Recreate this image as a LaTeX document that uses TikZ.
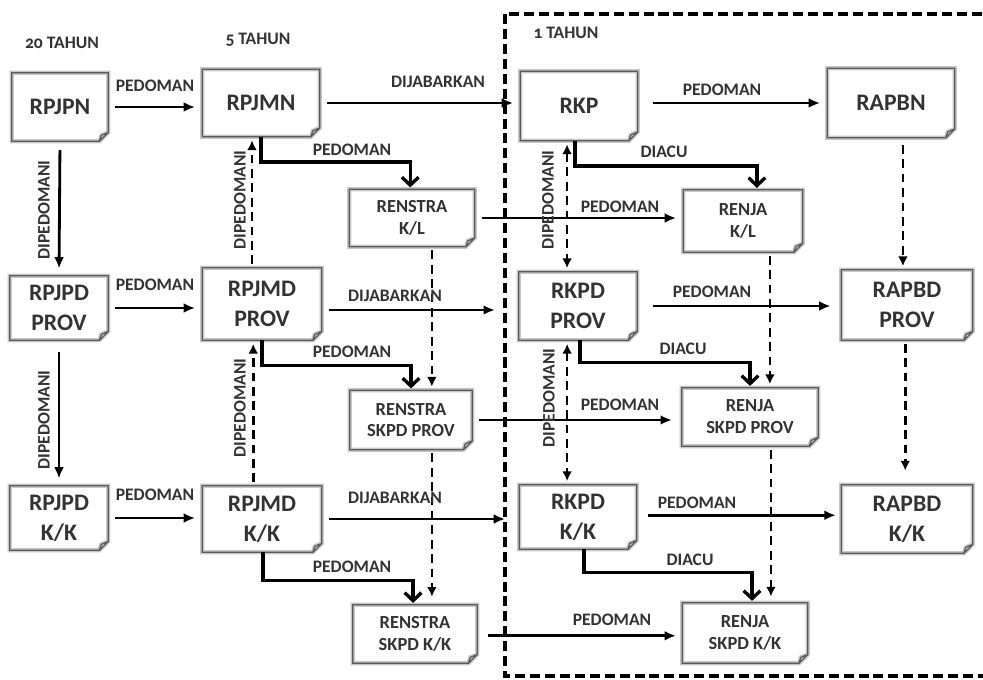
\documentclass[tikz,border=0pt]{standalone}
\usepackage{fontspec}
\setmainfont{Carlito}
\usepackage{tikz}
\usetikzlibrary{arrows.meta, calc}

\begin{document}
\begin{tikzpicture}[
    x=0.02cm, y=-0.02cm,
    doc/.style={rectangle, inner sep=0pt, align=center, text=black!80, font=\fontsize{13.5}{17}\selectfont\bfseries},
    subdoc/.style={doc, font=\fontsize{10.5}{12.5}\selectfont\bfseries},
    outline/.style={draw=black!65, line width=0.7pt, line join=round, preaction={draw=black!22, line width=2.4pt}},
    hdr/.style={font=\fontsize{10}{11}\selectfont\bfseries\addfontfeatures{Numbers=OldStyle}, text=black!80, inner sep=0pt},
    lbl/.style={font=\fontsize{10}{11}\selectfont\bfseries, text=black!80, inner sep=0pt},
    rlbl/.style={lbl, rotate=90},
    link/.style={line width=1.6pt, shorten <=4pt, shorten >=4pt, -{Latex[length=6.5pt, width=5.5pt]}},
    turn/.style={line width=1.9pt, shorten >=1pt, -{Straight Barb[length=4.5pt, width=9.5pt]}},
    ref/.style={line width=1.5pt, dash pattern=on 5pt off 3.2pt, shorten <=2pt, shorten >=2pt, -{Latex[length=5.5pt, width=5.5pt]}},
    frame/.style={line width=1.8pt, dash pattern=on 5.7pt off 2.8pt},
]
\useasboundingbox (0,0) rectangle (983,679);

% 1 tahun frame
\draw[frame] (505,14) rectangle (1000,676);

% Headers
\node[hdr] (h20) at (62,43) {20 TAHUN};
\node[hdr] (h5) at (258,40) {5 TAHUN};
\node[hdr] (h1) at (566,33) {1 TAHUN};

% National
\node[doc, minimum width=1.92cm, minimum height=1.36cm] (rpjpn) at (60,107) {RPJPN};
\node[doc, minimum width=2.34cm, minimum height=1.34cm] (rpjmn) at (261,103) {RPJMN};
\node[doc, minimum width=2.34cm, minimum height=1.38cm] (rkp) at (579,106) {RKP};
\node[doc, minimum width=2.54cm, minimum height=1.38cm] (rapbn) at (891,103) {RAPBN};
\node[subdoc, minimum width=2.50cm, minimum height=1.14cm] (renstrakl) at (412,218) {RENSTRA\\K/L};
\node[subdoc, minimum width=2.38cm, minimum height=1.24cm] (renjakl) at (743,221) {RENJA\\K/L};

% Province
\node[doc, minimum width=1.96cm, minimum height=1.28cm] (rpjpdprov) at (59,308) {RPJPD\\PROV};
\node[doc, minimum width=2.38cm, minimum height=1.44cm] (rpjmdprov) at (262,304) {RPJMD\\PROV};
\node[doc, minimum width=2.36cm, minimum height=1.36cm] (rkpdprov) at (578,306) {RKPD\\PROV};
\node[doc, minimum width=2.62cm, minimum height=1.40cm] (rapbdprov) at (907,305) {RAPBD\\PROV};
\node[subdoc, minimum width=2.44cm, minimum height=1.18cm] (renstraprov) at (411,420) {RENSTRA\\SKPD PROV};
\node[subdoc, minimum width=2.72cm, minimum height=1.16cm] (renjaprov) at (750,417) {RENJA\\SKPD PROV};

% Kabupaten / Kota
\node[doc, minimum width=1.96cm, minimum height=1.28cm] (rpjpdkk) at (59,518) {RPJPD\\K/K};
\node[doc, minimum width=2.38cm, minimum height=1.32cm] (rpjmdkk) at (262,519) {RPJMD\\K/K};
\node[doc, minimum width=2.34cm, minimum height=1.28cm] (rkpdkk) at (578,517) {RKPD\\K/K};
\node[doc, minimum width=2.62cm, minimum height=1.36cm] (rapbdkk) at (907,519) {RAPBD\\K/K};
\node[subdoc, minimum width=2.48cm, minimum height=1.16cm] (renstrakk) at (415,634) {RENSTRA\\SKPD K/K};
\node[subdoc, minimum width=2.50cm, minimum height=1.20cm] (renjakk) at (745,633) {RENJA\\SKPD K/K};

% Document outlines with folded corner
\foreach \n in {rpjpn, rpjmn, rkp, rapbn, renstrakl, renjakl, rpjpdprov, rpjmdprov, rkpdprov, rapbdprov, renstraprov, renjaprov, rpjpdkk, rpjmdkk, rkpdkk, rapbdkk, renstrakk, renjakk}
  \draw[outline] (\n.north west) -- (\n.north east) -- ($(\n.south east)+(0,-9)$) -- ($(\n.south east)+(-9,0)$) -- (\n.south west) -- cycle
    ($(\n.south east)+(0,-9)$) -- ($(\n.south east)+(-7,-6)$) -- ($(\n.south east)+(-9,0)$);

% Horizontal links
\draw[link] (rpjpn.east) -- (rpjpn.east -| rpjmn.west);
\draw[link] (rpjmn.east) -- (rpjmn.east -| rkp.west);
\draw[link, shorten <=8.5pt] (rapbn.west -| rkp.east) -- (rapbn.west);
\draw[link] (renstrakl.east) -- (renstrakl.east -| renjakl.west);
\draw[link] (rpjpdprov.east) -- (rpjpdprov.east -| rpjmdprov.west);
\draw[link, shorten >=13.5pt] ([yshift=-3.4pt]rpjmdprov.east) -- ([yshift=-3.4pt]rpjmdprov.east -| rkpdprov.west);
\draw[link, shorten <=9pt, shorten >=6pt] (rkpdprov.east) -- (rkpdprov.east -| rapbdprov.west);
\draw[link, shorten >=5.5pt] (renstraprov.east) -- (renstraprov.east -| renjaprov.west);
\draw[link] (rpjpdkk.east) -- (rpjpdkk.east -| rpjmdkk.west);
\draw[link, shorten >=8pt] (rpjmdkk.east) -- (rpjmdkk.east -| rkpdkk.west);
\draw[link, shorten <=6.5pt, shorten >=3pt] ([yshift=1pt]rkpdkk.east) -- ([yshift=1pt]rkpdkk.east -| rapbdkk.west);
\draw[link, shorten <=6pt, shorten >=3.5pt] ([yshift=-1pt]renstrakk.east) -- ([yshift=-1pt]renstrakk.east -| renjakk.west);

% Vertical links
\draw[link, shorten <=5pt] (rpjpn.south) -- (rpjpdprov.north);
\draw[link, shorten <=6.5pt] (rpjpdprov.south) -- (rpjpdkk.north);
\draw[ref, shorten <=4pt] ([xshift=6.8pt]rapbn.south) -- ([xshift=6.8pt]rapbn.south |- rapbdprov.north);
\draw[ref, shorten >=8pt] ([xshift=-1pt]rapbdprov.south) -- ([xshift=-1pt]rapbdprov.south |- rapbdkk.north);
\draw[ref] ([xshift=11.3pt]renstrakl.south) -- ([xshift=11.3pt]renstrakl.south |- renstraprov.north);
\draw[ref, shorten >=4.5pt] ([xshift=11.9pt]renstraprov.south) -- ([xshift=11.9pt]renstraprov.south |- renstrakk.north);
\draw[ref] ([xshift=15.3pt]renjakl.south) -- ([xshift=15.3pt]renjakl.south |- renjaprov.north);
\draw[ref, shorten >=3.5pt] ([xshift=11.9pt]renjaprov.south) -- ([xshift=11.9pt]renjaprov.south |- renjakk.north);
\draw[ref] ([xshift=-5.7pt]rpjmdprov.north) -- ([xshift=-5.7pt]rpjmdprov.north |- rpjmn.south);
\draw[ref] ([xshift=-5pt]rpjmdkk.north) -- ([xshift=-5pt]rpjmdkk.north |- rpjmdprov.south);
\draw[ref, {Latex[length=5.5pt, width=5.5pt]}-{Latex[length=5.5pt, width=5.5pt]}] ([xshift=-6.8pt]rkp.south) -- ([xshift=-6.8pt]rkp.south |- rkpdprov.north);
\draw[ref, {Latex[length=5.5pt, width=5.5pt]}-{Latex[length=5.5pt, width=5.5pt]}] ([xshift=-6.2pt]rkpdprov.south) -- ([xshift=-6.2pt]rkpdprov.south |- rkpdkk.north);

% Bent links
\draw[turn] (rpjmn.south) -- ++(0,25) -| ([xshift=-1pt]renstrakl.north);
\draw[turn] ([xshift=-2.3pt]rkp.south) -- ++(0,25) -| ([xshift=7.9pt]renjakl.north);
\draw[turn] (rpjmdprov.south) -- ++(0,25) -| (renstraprov.north);
\draw[turn] ([xshift=1.1pt]rkpdprov.south) -- ++(0,22) -| (renjaprov.north);
\draw[turn] ([xshift=0.6pt]rpjmdkk.south) -- ++(0,28) -| ([xshift=-1.1pt]renstrakk.north);
\draw[turn] ([xshift=3.4pt]rkpdkk.south) -- ++(0,23) -| ([xshift=4pt]renjakk.north);

% Labels
\node[lbl] (p1) at (155,86) {PEDOMAN};
\node[lbl] (d1) at (438,82) {DIJABARKAN};
\node[lbl] (p2) at (722,90) {PEDOMAN};
\node[lbl] (p3) at (352,150) {PEDOMAN};
\node[lbl] (a1) at (664,152) {DIACU};
\node[lbl] (p4) at (620,207) {PEDOMAN};
\node[rlbl] (r1) at (44,210) {DIPEDOMANI};
\node[rlbl] (r2) at (240,200) {DIPEDOMANI};
\node[rlbl] (r3) at (548,200) {DIPEDOMANI};
\node[lbl] (p5) at (155,285) {PEDOMAN};
\node[lbl] (d2) at (395,296) {DIJABARKAN};
\node[lbl] (p6) at (712,292) {PEDOMAN};
\node[lbl] (p7) at (352,352) {PEDOMAN};
\node[lbl] (a2) at (683,349) {DIACU};
\node[lbl] (p8) at (620,405) {PEDOMAN};
\node[rlbl] (r4) at (44,420) {DIPEDOMANI};
\node[rlbl] (r5) at (240,408) {DIPEDOMANI};
\node[rlbl] (r6) at (549,398) {DIPEDOMANI};
\node[lbl] (p9) at (155,495) {PEDOMAN};
\node[lbl] (d3) at (395,498) {DIJABARKAN};
\node[lbl] (p10) at (697,503) {PEDOMAN};
\node[lbl] (p11) at (352,567) {PEDOMAN};
\node[lbl] (a3) at (690,560) {DIACU};
\node[lbl] (p12) at (612,620) {PEDOMAN};
\end{tikzpicture}
\end{document}
